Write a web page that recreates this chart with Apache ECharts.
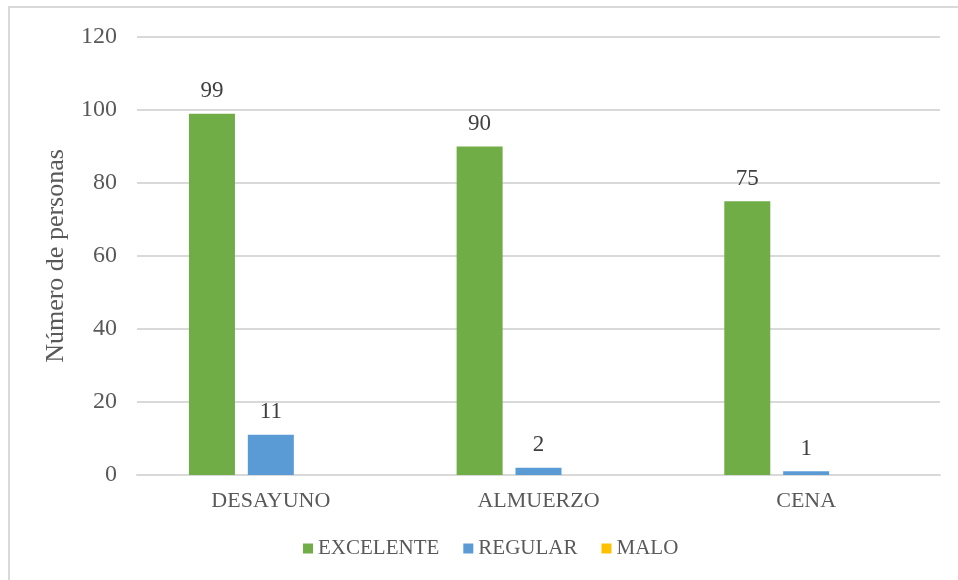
<!DOCTYPE html>
<html>
<head>
<meta charset="utf-8">
<script src="https://cdn.jsdelivr.net/npm/echarts@6/dist/echarts.min.js"></script>
<style>html,body{margin:0;padding:0;background:#fff}#c{width:958px;height:580px}</style>
</head>
<body>
<div id="c"></div>
<script>
var categories = ['DESAYUNO', 'ALMUERZO', 'CENA'];
var excelente = [99, 90, 75];
var regular = [11, 2, 1];
var malo = [0, 0, 0];
var seriesNames = ['EXCELENTE', 'REGULAR', 'MALO'];
var yTicks = {min: 0, max: 120, interval: 20};

var FONT = "'Liberation Serif', 'Times New Roman', serif";
var TXT = '#595959';
var chart = echarts.init(document.getElementById('c'), null, {renderer: 'canvas'});
function labelCfg(show) {
  return {show: show, position: 'top', distance: 11, color: '#404040', fontFamily: FONT, fontSize: 23};
}
chart.setOption({
  animation: false,
  backgroundColor: '#fff',
  graphic: [{type: 'rect', shape: {x: 9, y: 7, width: 1100, height: 1100}, style: {fill: 'none', stroke: '#d9d9d9', lineWidth: 2}, silent: true}],
  grid: {left: 137, right: 18, top: 37, bottom: 105},
  legend: {
    left: 303, top: 538, padding: 0, itemWidth: 10, itemHeight: 10, itemGap: 24, icon: 'rect',
    textStyle: {color: TXT, fontFamily: FONT, fontSize: 21},
    data: seriesNames
  },
  xAxis: {
    type: 'category', data: categories,
    axisLine: {lineStyle: {color: '#d9d9d9', width: 2}},
    axisTick: {show: false},
    axisLabel: {color: TXT, fontFamily: FONT, fontSize: 22, margin: 15}
  },
  yAxis: {
    type: 'value', min: yTicks.min, max: yTicks.max, interval: yTicks.interval,
    name: 'Número de personas', nameLocation: 'middle', nameGap: 68,
    nameTextStyle: {color: TXT, fontFamily: FONT, fontSize: 26},
    axisLine: {show: false}, axisTick: {show: false},
    splitLine: {lineStyle: {color: '#d9d9d9', width: 2}},
    axisLabel: {color: TXT, fontFamily: FONT, fontSize: 24, margin: 20}
  },
  series: [
    {name: seriesNames[0], type: 'bar', data: excelente, barWidth: 46, barGap: '28%', itemStyle: {color: '#70AD47'}, label: labelCfg(true)},
    {name: seriesNames[1], type: 'bar', data: regular, barWidth: 46, barGap: '28%', itemStyle: {color: '#5B9BD5'}, label: labelCfg(true)},
    {name: seriesNames[2], type: 'bar', data: malo, barWidth: 46, barGap: '28%', itemStyle: {color: '#FFC000'}, label: labelCfg(false)}
  ]
});
</script>
</body>
</html>
